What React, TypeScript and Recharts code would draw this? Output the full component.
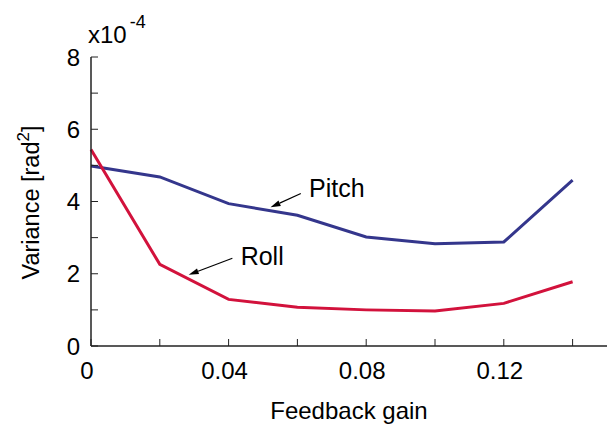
import React from "react";
import {
  LineChart,
  Line,
  XAxis,
  YAxis,
  ReferenceLine,
  ReferenceDot,
} from "recharts";

// feedback gain (x) and variance values in units of 1e-4 rad^2
const gains = [0, 0.02, 0.04, 0.06, 0.08, 0.1, 0.12, 0.14];
const pitchValues = [4.98, 4.68, 3.94, 3.62, 3.02, 2.83, 2.88, 4.59];
const rollValues = [5.44, 2.26, 1.29, 1.07, 1.0, 0.97, 1.18, 1.78];

const xTicks = [0, 0.02, 0.04, 0.06, 0.08, 0.1, 0.12, 0.14];
const yTicks = [0, 1, 2, 3, 4, 5, 6, 7, 8];

// annotation anchors, in data units
const pitchArrow = [
  { x: 0.061, y: 4.22 },
  { x: 0.0522, y: 3.84 },
];
const rollArrow = [
  { x: 0.0411, y: 2.43 },
  { x: 0.0284, y: 1.97 },
];
const pitchLabel = { x: 0.0634, y: 4.13, text: "Pitch" };
const rollLabel = { x: 0.0435, y: 2.25, text: "Roll" };

const FONT = "'Liberation Sans', Arial, Helvetica, sans-serif";

const data = gains.map((g, i) => ({
  gain: g,
  pitch: pitchValues[i],
  roll: rollValues[i],
}));

const Arrow = (props: any) => {
  const { x1, y1, x2, y2 } = props;
  const ang = Math.atan2(y2 - y1, x2 - x1);
  const len = 10;
  const half = 3;
  const bx = x2 - len * Math.cos(ang);
  const by = y2 - len * Math.sin(ang);
  const px = -Math.sin(ang) * half;
  const py = Math.cos(ang) * half;
  return (
    <g>
      <line x1={x1} y1={y1} x2={bx} y2={by} stroke="#000" strokeWidth={1.2} />
      <polygon
        points={`${x2},${y2} ${bx + px},${by + py} ${bx - px},${by - py}`}
        fill="#000"
      />
    </g>
  );
};

const makeText = (text: string) => (props: any) => (
  <text x={props.cx} y={props.cy} fontSize={25} fontFamily={FONT} fill="#000">
    {text}
  </text>
);

const YTitle = (props: any) => {
  const vb = props.viewBox;
  const cx = vb.x + 39;
  const cy = vb.y + vb.height / 2 + 1;
  return (
    <g>
      <text
        transform={`translate(${cx},${cy}) rotate(-90)`}
        textAnchor="middle"
        fontSize={23.5}
        fontFamily={FONT}
        fill="#000"
      >
        Variance [rad
        <tspan fontSize={17} dy={-10}>
          2
        </tspan>
        <tspan dy={10}>]</tspan>
      </text>
      <text
        x={vb.x + vb.width - 3}
        y={vb.y - 14}
        fontSize={24}
        fontFamily={FONT}
        fill="#000"
      >
        x10
        <tspan fontSize={18} dy={-15} dx={3}>
          -4
        </tspan>
      </text>
    </g>
  );
};

const XTitle = (props: any) => {
  const vb = props.viewBox;
  return (
    <text
      x={vb.x + vb.width / 2}
      y={vb.y + 73}
      textAnchor="middle"
      fontSize={24}
      fontFamily={FONT}
      fill="#000"
    >
      Feedback gain
    </text>
  );
};

const fmtX = (v: number) => {
  const k = Math.round(v * 100);
  if (k % 4 !== 0) return "";
  return k === 0 ? "0" : v.toFixed(2);
};
const fmtY = (v: number) => (v % 2 === 0 ? String(v) : "");
const blank = () => "";

const tickStyle = { fontSize: 24, fontFamily: FONT, fill: "#000" };

export default function App() {
  return (
    <div style={{ position: "absolute", left: 0, top: 0 }}>
      <LineChart
        width={607}
        height={430}
        data={data}
        margin={{ top: 57, right: 0, bottom: 0, left: 0 }}
      >
        <XAxis
          xAxisId="main"
          dataKey="gain"
          type="number"
          domain={[0, 0.15]}
          ticks={xTicks}
          tickFormatter={fmtX}
          tickSize={-7}
          tickMargin={23}
          height={84}
          tick={{ ...tickStyle, dx: -4 }}
          axisLine={{ stroke: "#222", strokeWidth: 1.5 }}
          tickLine={{ stroke: "#222", strokeWidth: 1 }}
          label={{ content: XTitle }}
        />
        <XAxis
          xAxisId="top"
          orientation="top"
          dataKey="gain"
          type="number"
          domain={[0, 0.15]}
          ticks={xTicks}
          tickFormatter={blank}
          tickSize={-7}
          height={0}
          axisLine={{ stroke: "#222", strokeWidth: 1.5 }}
          tickLine={{ stroke: "#222", strokeWidth: 1 }}
        />
        <YAxis
          yAxisId="main"
          type="number"
          domain={[0, 8]}
          ticks={yTicks}
          tickFormatter={fmtY}
          tickSize={-7}
          tickMargin={18}
          width={91}
          tick={tickStyle}
          axisLine={{ stroke: "#222", strokeWidth: 1.5 }}
          tickLine={{ stroke: "#222", strokeWidth: 1 }}
          label={{ content: YTitle }}
        />
        <YAxis
          yAxisId="right"
          orientation="right"
          type="number"
          domain={[0, 8]}
          ticks={yTicks}
          tickFormatter={blank}
          tickSize={-7}
          width={0}
          axisLine={false}
          tickLine={{ stroke: "#222", strokeWidth: 1 }}
        />
        <Line
          xAxisId="main"
          yAxisId="main"
          dataKey="pitch"
          stroke="#34368c"
          strokeWidth={3}
          dot={false}
          isAnimationActive={false}
        />
        <Line
          xAxisId="main"
          yAxisId="main"
          dataKey="roll"
          stroke="#d2123c"
          strokeWidth={3}
          dot={false}
          isAnimationActive={false}
        />
        <ReferenceLine
          xAxisId="main"
          yAxisId="main"
          segment={pitchArrow}
          shape={Arrow}
        />
        <ReferenceLine
          xAxisId="main"
          yAxisId="main"
          segment={rollArrow}
          shape={Arrow}
        />
        <ReferenceDot
          xAxisId="main"
          yAxisId="main"
          x={pitchLabel.x}
          y={pitchLabel.y}
          r={0}
          shape={makeText(pitchLabel.text)}
        />
        <ReferenceDot
          xAxisId="main"
          yAxisId="main"
          x={rollLabel.x}
          y={rollLabel.y}
          r={0}
          shape={makeText(rollLabel.text)}
        />
      </LineChart>
    </div>
  );
}
